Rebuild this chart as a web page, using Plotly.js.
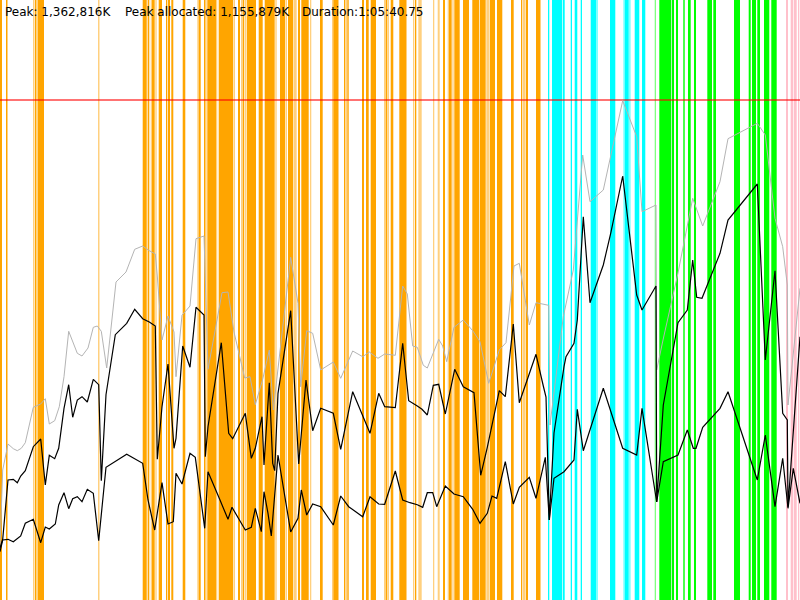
<!DOCTYPE html>
<html>
<head>
<meta charset="utf-8">
<script src="https://cdn.plot.ly/plotly-3.0.1.min.js"></script>
<style>
  html, body { margin: 0; padding: 0; background: #fff; }
  #chart_div { width: 800px; height: 600px; }
</style>
</head>
<body>
<div id="chart_div"></div>
<script>
// summary line printed top left
var summaryTexts = ["Peak: 1,362,816K", "Peak allocated: 1,155,879K", "Duration:1:05:40.75"];
var summaryPos = [3, 123, 299.5];

// time axis runs 0..800, memory rows run 0 (top) .. 600 (bottom)
var peakLevel = 100;

// gray line (heap size)
var heapX = [0, 2.7, 8, 13.3, 17.3, 21.3, 25.3, 33.3, 40.7, 45.3, 49.3, 54.7, 59.3, 64, 68.7, 73.3, 77.3, 82, 88, 93.3, 97.3, 101.3, 106.7, 116, 126, 134.7, 142.7, 149.3, 155.3, 157.3, 162, 168, 174, 176, 182, 190, 196, 204, 208, 222, 228, 234, 244.7, 250, 255.3, 262.7, 269.3, 273.3, 290.7, 298, 300.7, 306.7, 312.7, 320.7, 333.3, 340.7, 352.7, 362.7, 369.3, 378, 384.7, 395.3, 402.7, 407.3, 412.7, 417.3, 423.3, 427.3, 438.7, 442.7, 446.7, 454, 463.3, 472.7, 480, 488.7, 499.3, 506, 514, 519.3, 529.3, 536, 548.7, 550, 563.3, 573.3, 582.7, 590, 603.3, 622.7, 636.7, 642, 656, 656.7, 663, 678, 692.7, 702.7, 720, 728, 757.3, 765.3, 775, 782.7, 787.3, 788, 800];
var heapY = [548, 470, 444, 448.7, 450.7, 448.3, 442.7, 407.3, 404, 398.7, 424, 420.7, 406.7, 376.7, 331.3, 343.3, 353.3, 356, 348, 327.3, 326, 331.3, 368, 282, 272, 249.3, 246, 250.7, 254, 276, 340, 316, 332, 376.7, 315.3, 306, 238.7, 236, 369.3, 292.7, 292, 332, 378, 376.7, 404.7, 379.3, 350, 410, 257.3, 303.3, 386.7, 330.7, 333.3, 370, 362, 378.3, 351, 356.7, 352, 358.3, 354, 355.3, 286, 294, 346, 347.3, 365.3, 368, 339.3, 346, 361.7, 327.3, 320, 330.7, 341.7, 383.3, 350, 342.7, 266, 263.3, 325, 302.7, 305.3, 425, 316.7, 270, 155, 201.7, 190, 100.7, 136.7, 211.7, 205, 370, 340, 273, 198.3, 226, 181.7, 138.7, 123.3, 135, 218.3, 246.7, 285, 405, 288.3];

// upper black line (used before collection)
var usedX = [0, 2.7, 8, 13.3, 17.3, 20.7, 25.3, 33.3, 40.7, 45.3, 49.3, 54.7, 58.7, 64, 68.7, 72.7, 77.3, 82, 87.3, 93.3, 98.7, 101.3, 106, 115.3, 126.7, 134.7, 142.7, 149.3, 155.3, 157.3, 162, 168, 174, 176, 182.7, 190, 196, 204, 205.3, 208, 221.3, 228.7, 232.7, 245.3, 251.3, 255.3, 262, 264, 269.3, 272.7, 274.7, 278, 290.7, 298.7, 306, 312.7, 320.7, 333.3, 340.7, 352.7, 370, 378.7, 384.7, 395.3, 402.7, 408.7, 417.3, 422, 427.3, 433.3, 438.7, 445.3, 454.7, 463.3, 474, 480.7, 487.3, 499.3, 505.3, 513.3, 519.3, 536, 543.3, 546, 549.3, 554, 564, 566, 574, 577.3, 583.3, 590, 603.3, 610.7, 622.7, 636.7, 642, 656, 656.7, 663.3, 678, 687.3, 692.7, 696.7, 702, 720, 728, 757.3, 765.3, 775, 782.7, 787.3, 788, 800];
var usedY = [548, 539.3, 480, 479.3, 482.7, 476, 470.7, 446.7, 439, 485, 455.3, 458.7, 448.3, 408.3, 384.7, 417.3, 400, 396.7, 402, 379.3, 384.7, 480.7, 394.7, 334.7, 323.3, 309.3, 318.7, 322, 326, 459.3, 406.7, 364, 448.3, 438.3, 346, 367.3, 307.3, 315, 456.7, 426.7, 342.7, 433.3, 438.7, 413.3, 458.3, 448.3, 416.7, 465, 382.7, 463.3, 470.7, 393.3, 310.7, 464, 380, 430.7, 408.3, 413.3, 449.3, 391.7, 433.3, 393.3, 406.7, 407.7, 343.3, 400.7, 406, 409.3, 415, 385.3, 384.3, 414, 369.3, 386.7, 392.7, 475.3, 447.3, 390.7, 396.7, 324, 402.7, 354.3, 386, 397, 520, 433, 366.7, 356.7, 343.3, 320, 216.7, 302.7, 265, 233.3, 176, 295, 310, 286, 502, 405, 322.7, 310, 260, 297.3, 298.3, 253.3, 220, 184, 360, 270.7, 413.3, 420, 506.7, 336.7];

// lower black line (live after collection)
var liveX = [0, 2.7, 8, 13.3, 20.7, 25.3, 33.3, 40.7, 45.3, 49.3, 55.3, 58.7, 64, 68.7, 72.7, 77.3, 82, 87.3, 93.3, 98.7, 106, 126.7, 142.7, 148, 154.7, 162, 168, 173.3, 176, 182, 190, 195.3, 204.7, 208, 220, 228, 232, 245.3, 251.3, 255.3, 261.3, 264, 268, 271.3, 278, 290.7, 298, 301.3, 306.7, 312.7, 320.7, 333.3, 340.7, 348.7, 362.7, 370, 378.7, 384.7, 395.3, 402.7, 410, 417.3, 422.7, 427.3, 432.7, 436.7, 445.3, 454, 463.3, 472.7, 480, 487.3, 492, 496.7, 505.3, 513.3, 519.3, 529.3, 536, 545.3, 549.3, 554, 564, 574, 577.3, 583.3, 603.3, 622.7, 636.7, 642, 656.7, 663.3, 678, 687.3, 693.3, 696, 702.7, 720, 728, 757.3, 765.3, 775, 782.7, 788, 793.3, 800];
var liveY = [551.7, 540, 539.3, 541.7, 536, 523.3, 519.3, 542.7, 527, 529, 524, 505, 492.7, 508.7, 498.7, 496.7, 501.7, 489.3, 493.3, 540.7, 467.3, 454.3, 463.3, 500, 530, 482.7, 524, 521.7, 473.3, 484, 453.3, 457.3, 528.3, 471.7, 500, 519.3, 507.3, 530, 527.3, 508.3, 531.7, 491.7, 513.3, 536, 455, 532, 518.3, 490, 515, 504, 506.7, 525, 496, 506.7, 516.7, 496.7, 504, 504.3, 471, 500, 502.7, 504.7, 507.3, 492.7, 492.7, 506.7, 486, 494, 496.7, 509.3, 523.3, 513.3, 496, 498.3, 461.7, 504, 487.3, 477.3, 498.3, 457.3, 520, 478.3, 471.7, 460, 409.3, 450.7, 388.3, 448.3, 455, 408.3, 502, 461.7, 455, 430, 448.3, 448.3, 427.3, 408.3, 391.7, 480, 435, 506.7, 458.3, 508.3, 468.3, 503.3];

// event stripes as [start, end]
var orangeEvents = [[0, 2], [6, 7.5], [35, 36.5], [37.5, 44], [142.7, 146.7], [148, 149.3], [152, 154.7], [158.7, 162], [166, 167.3], [168, 170], [171.3, 173.3], [182.7, 185.3], [198.7, 200.7], [204, 205.3], [207.3, 216], [218.7, 233.3], [238, 240], [242.7, 244], [246.7, 256], [258.7, 262.7], [264.7, 274.7], [280, 285.3], [288, 293.3], [298, 300], [301.3, 308.7], [320, 322.7], [333.3, 338], [344, 345.3], [347.3, 348.7], [362, 364], [366, 368.7], [370.7, 376], [386, 387.3], [390.7, 393.3], [399.3, 406], [415, 416.3], [443, 445], [449, 451.7], [454.3, 459.7], [463, 469], [472.3, 479], [479.7, 485.7], [489.7, 495], [497, 502.3], [511, 513.7], [521, 522.3], [525.7, 528], [536, 540]];
var orangeLight = [[33, 34.5], [98, 99.5], [146.7, 147.5], [150.7, 152], [155.3, 156.7], [197.3, 198.7], [205.3, 206.7], [216, 217.3], [234, 235], [241, 242.5], [244.5, 246], [275.3, 276.7], [286, 287], [294, 296.7], [310, 311.3], [332, 333.3], [338, 339], [345.7, 347], [384, 386], [387.7, 389], [406, 407], [413, 414.3], [418.3, 421.7], [433, 434.3], [437.7, 439.7], [447.7, 449], [452.3, 453.7], [486.3, 489], [523, 525], [540, 541]];
var cyanEvents = [[548, 549.3], [552, 562], [562.7, 564.7], [570.7, 572], [574.7, 577.3], [580.7, 582], [590.7, 596], [610, 615.3], [624.7, 628.7], [634.7, 639.3], [642, 645.3]];
var cyanLight = [[596, 598], [623.3, 624.7], [628.7, 630.7]];
var greenEvents = [[659.3, 671.3], [672, 674], [676, 678], [683.3, 684.7], [688, 690.7], [694, 696], [707.3, 712], [713.3, 716], [734, 740], [748.7, 750.7], [752, 756], [757.3, 760], [764, 769.3], [771.3, 776.7]];
var greenLight = [[654.7, 656]];
var pinkEvents = [[786, 788], [790.7, 793.3], [794, 796.7], [798, 799.3]];


//returns a bar trace drawing full height stripes for a list of [start,end]
function stripe_trace(events, color) {
	var x = [];
	var w = [];
	var y = [];
	for (var i = 0; i < events.length; i++) {
		var width = Math.max(events[i][1] - events[i][0], 1);
		x.push(events[i][0] + width / 2);
		w.push(width);
		y.push(600);
	}
	return {
		type: 'bar',
		x: x,
		y: y,
		base: 0,
		width: w,
		marker: { color: color, line: { width: 0 } },
		hoverinfo: 'skip'
	};
}

function line_trace(x, y, color, width) {
	return {
		type: 'scatter',
		mode: 'lines',
		x: x,
		y: y,
		line: { color: color, width: width },
		hoverinfo: 'skip'
	};
}

var data = [
	stripe_trace(orangeLight, '#ffd07f'),
	stripe_trace(orangeEvents, '#ffa500'),
	stripe_trace(cyanLight, '#80ffff'),
	stripe_trace(cyanEvents, '#00ffff'),
	stripe_trace(greenLight, '#80ff80'),
	stripe_trace(greenEvents, '#00ff00'),
	stripe_trace(pinkEvents, '#ffc0cb'),
	line_trace([0, 800], [peakLevel, peakLevel], 'rgba(255,0,0,0.55)', 2),
	line_trace(heapX, heapY, '#b4b4b4', 1),
	line_trace(usedX, usedY, '#000000', 1.2),
	line_trace(liveX, liveY, '#000000', 1.2)
];

//summary text at the top
var annotations = [];
for (var k = 0; k < summaryTexts.length; k++) {
	annotations.push({
		x: summaryPos[k],
		y: 12,
		xref: 'x',
		yref: 'y',
		text: summaryTexts[k],
		showarrow: false,
		xanchor: 'left',
		yanchor: 'middle',
		font: { family: 'DejaVu Sans', size: 12, color: '#000' }
	});
}

var layout = {
	width: 800,
	height: 600,
	margin: { l: 0, r: 0, t: 0, b: 0, pad: 0 },
	paper_bgcolor: '#fff',
	plot_bgcolor: '#fff',
	showlegend: false,
	barmode: 'overlay',
	hovermode: false,
	xaxis: { range: [0, 800], visible: false, fixedrange: true },
	yaxis: { range: [600, 0], visible: false, fixedrange: true },
	annotations: annotations
};

Plotly.newPlot('chart_div', data, layout, { displayModeBar: false, staticPlot: true });
</script>
</body>
</html>
